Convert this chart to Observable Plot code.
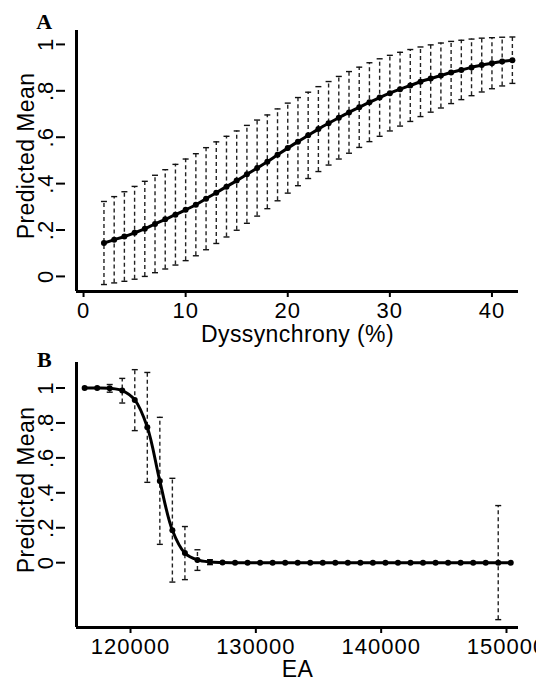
<!DOCTYPE html>
<html>
<head>
<meta charset="utf-8">
<script src="https://cdn.jsdelivr.net/npm/d3@7"></script>
<script src="https://cdn.jsdelivr.net/npm/@observablehq/plot@0.6"></script>
<style>
  html, body { margin: 0; padding: 0; background: #fff; overflow: hidden; }
  #chart svg { display: block; }
  #chart svg text { letter-spacing: 1px; }
  #chart svg g[aria-label="text"] text { letter-spacing: 0.4px; }
</style>
</head>
<body>
<div id="chart"></div>
<script>
// ---------- Panel A data ----------
const aX = [2,3,4,5,6,7,8,9,10,11,12,13,14,15,16,17,18,19,20,21,22,23,24,25,26,27,28,29,30,31,32,33,34,35,36,37,38,39,40,41,42];
const aMean = [0.144,0.158,0.172,0.188,0.205,0.226,0.246,0.266,0.287,0.309,0.335,0.361,0.387,0.413,0.440,0.467,0.494,0.524,0.553,0.581,0.608,0.635,0.660,0.684,0.707,0.729,0.751,0.771,0.790,0.807,0.823,0.839,0.853,0.866,0.879,0.890,0.901,0.911,0.919,0.926,0.932];
const aLower = [-0.035,-0.028,-0.021,-0.012,0.000,0.016,0.032,0.049,0.068,0.089,0.115,0.142,0.170,0.199,0.229,0.260,0.292,0.326,0.359,0.391,0.422,0.452,0.480,0.506,0.531,0.556,0.581,0.604,0.627,0.648,0.668,0.689,0.708,0.726,0.745,0.762,0.779,0.795,0.809,0.821,0.832];
const aUpper = [0.323,0.344,0.365,0.388,0.410,0.436,0.460,0.483,0.506,0.529,0.555,0.580,0.604,0.627,0.651,0.674,0.696,0.722,0.747,0.771,0.794,0.818,0.840,0.862,0.883,0.902,0.921,0.938,0.953,0.966,0.978,0.989,0.998,1.006,1.013,1.018,1.023,1.027,1.029,1.031,1.032];
const aXTicks = [0,10,20,30,40];

// ---------- Panel B data ----------
const bEA = [116340,117340,118340,119340,120340,121340,122340,123340,124340,125340,126340,127340,128340,129340,130340,131340,132340,133340,134340,135340,136340,137340,138340,139340,140340,141340,142340,143340,144340,145340,146340,147340,148340,149340,150340];
const bMean = [1,1,0.998,0.985,0.932,0.776,0.467,0.186,0.055,0.016,0.004,0.001,0,0,0,0,0,0,0,0,0,0,0,0,0,0,0,0,0,0,0,0,0,0,0];
const bLower = [1,1,0.976,0.914,0.756,0.460,0.105,-0.111,-0.097,-0.044,-0.011,0.001,0,0,0,0,0,0,0,0,0,0,0,0,0,0,0,0,0,0,0,0,0,-0.326,0];
const bUpper = [1,1,1.020,1.055,1.105,1.089,0.832,0.483,0.207,0.074,0.017,0.001,0,0,0,0,0,0,0,0,0,0,0,0,0,0,0,0,0,0,0,0,0,0.327,0];
const bXTicks = [120000,130000,140000,150000];

// ---------- shared ----------
const yTicks = [0,0.2,0.4,0.6,0.8,1];
const yTickLabels = ["0",".2",".4",".6",".8","1"];
const yLabel = "Predicted Mean";

const capSymbol = {
  draw(ctx, size) {
    const h = Math.sqrt(size / Math.PI);
    ctx.moveTo(-h, 0);
    ctx.lineTo(h, 0);
  }
};

function panel({xs, mean, lower, upper, xDomain, yDomain, xTicks, xLabel, letter, height, marginTop, marginBottom, letterDy, titleDy}) {
  const rows = xs.map((x, i) => ({x, mean: mean[i], lower: lower[i], upper: upper[i]}));
  const bars = rows.filter(d => d.upper - d.lower > 0.005);
  return Plot.plot({
    width: 536,
    height,
    marginLeft: 76,
    marginRight: 18,
    marginTop,
    marginBottom,
    style: {fontFamily: "'Liberation Sans', Arial, Helvetica, sans-serif", fontSize: "22px", color: "black", background: "white", overflow: "visible"},
    x: {domain: xDomain},
    y: {domain: yDomain},
    marks: [
      Plot.ruleX(bars, {x: "x", y1: "lower", y2: "upper", stroke: "#222", strokeWidth: 1.4, strokeDasharray: "4,3"}),
      Plot.dot(bars, {x: "x", y: "lower", symbol: capSymbol, r: 3, stroke: "#111", strokeWidth: 1.4, fill: "none"}),
      Plot.dot(bars, {x: "x", y: "upper", symbol: capSymbol, r: 3, stroke: "#111", strokeWidth: 1.4, fill: "none"}),
      Plot.line(rows, {x: "x", y: "mean", curve: "catmull-rom", stroke: "black", strokeWidth: 3}),
      Plot.dot(rows, {x: "x", y: "mean", r: 3, fill: "black", stroke: "none"}),
      Plot.ruleX([xDomain[0]], {stroke: "black", strokeWidth: 3}),
      Plot.ruleY([yDomain[0]], {stroke: "black", strokeWidth: 3}),
      Plot.axisX(xTicks, {tickSize: 6, tickPadding: 5, strokeWidth: 2, label: null, tickFormat: d => String(d)}),
      Plot.axisY(yTicks, {tickSize: 9, tickPadding: 4, strokeWidth: 2, label: null, tickRotate: -90, dx: -11, tickFormat: d => yTickLabels[yTicks.indexOf(d)]}),
      Plot.text([xLabel], {frameAnchor: "bottom", dy: titleDy, lineAnchor: "bottom", textAnchor: "middle", fontSize: 23}),
      Plot.text([yLabel], {frameAnchor: "left", dx: -43, dy: -5, rotate: -90, lineAnchor: "bottom", textAnchor: "middle", fontSize: 23}),
      Plot.text([letter], {frameAnchor: "top-left", dx: -32, dy: letterDy, lineAnchor: "bottom", textAnchor: "middle", fontFamily: "'Liberation Serif', 'Times New Roman', serif", fontWeight: "bold", fontSize: 22})
    ]
  });
}

const chart = document.getElementById("chart");
chart.append(panel({
  xs: aX, mean: aMean, lower: aLower, upper: aUpper,
  xDomain: [-0.69, 42.6], yDomain: [-0.065, 1.06],
  xTicks: aXTicks, xLabel: "Dyssynchrony (%)", letter: "A",
  height: 345, marginTop: 30, marginBottom: 54, letterDy: -2, titleDy: 50.7
}));
chart.append(panel({
  xs: bEA, mean: bMean, lower: bLower, upper: bUpper,
  xDomain: [115690, 150958], yDomain: [-0.371, 1.146],
  xTicks: bXTicks, xLabel: "EA", letter: "B",
  height: 336, marginTop: 17, marginBottom: 54, letterDy: 4, titleDy: 49.7
}));
</script>
</body>
</html>
